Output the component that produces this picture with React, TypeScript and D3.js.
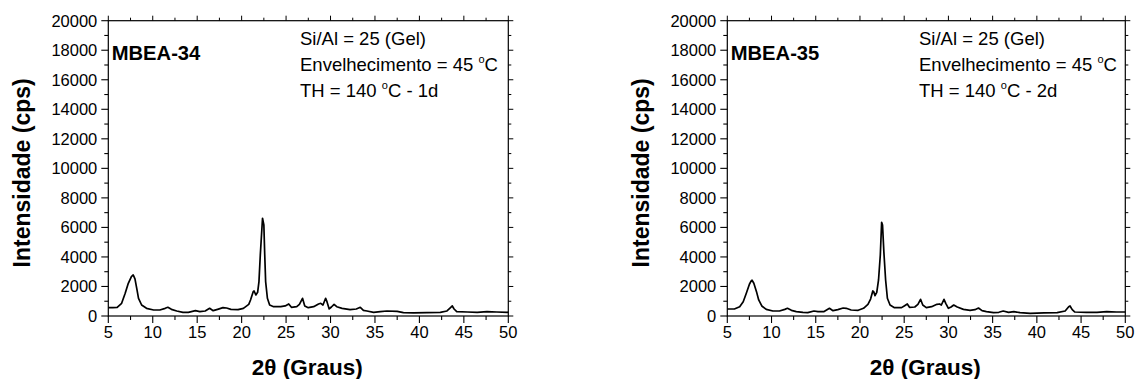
import React from "react";
import * as d3 from "d3";

// ---------- data ----------
const mbea34Theta = [
  5.0, 5.5, 6.0, 6.5, 6.9, 7.25, 7.6, 7.8, 8.0, 8.2, 8.4, 8.75, 9.3, 10.1, 10.8, 11.4, 11.7, 12.1, 12.7,
  13.4, 14.0, 14.8, 15.3, 15.9, 16.4, 16.8, 17.3, 17.9, 18.3, 18.8, 19.6, 20.2, 20.8, 21.0, 21.3, 21.4,
  21.6, 21.8, 21.95, 22.1, 22.35, 22.5, 22.6, 22.7, 22.9, 23.15, 23.6, 24.4, 24.9, 25.3, 25.6, 26.2,
  26.5, 26.85, 27.1, 27.5, 28.1, 28.65, 28.9, 29.15, 29.45, 29.6, 29.85, 30.1, 30.4, 30.7, 31.3, 32.2,
  32.9, 33.35, 33.7, 34.1, 34.85, 35.6, 36.35, 37.5, 38.2, 39.35, 40.85, 42.35, 43.1, 43.5, 43.7, 43.9,
  44.2, 45.4, 46.5, 47.6, 48.7, 49.9, 50.0,
];
const mbea34Counts = [
  565, 565, 590, 860, 1540, 2215, 2670, 2780, 2510, 1875, 1200, 745, 520, 405, 405, 520, 590, 450, 340,
  250, 250, 360, 295, 340, 520, 360, 450, 565, 540, 450, 430, 520, 790, 1085, 1650, 1695,
  1425, 1605, 2330, 4135, 6620, 6170, 4135, 2330, 1200, 745, 630, 630, 680, 815, 590, 630,
  790, 1200, 680, 565, 630, 815, 860, 745, 1200, 970, 475, 610, 790, 630, 520, 430,
  475, 590, 385, 340, 250, 295, 340, 315, 225, 205, 225, 250, 340, 565, 680, 475,
  295, 270, 250, 295, 270, 250, 260,
];

const mbea35Theta = [
  5.0, 5.8, 6.4, 6.8, 7.15, 7.5, 7.7, 7.8, 8.0, 8.3, 8.55, 8.9, 9.4, 10.15, 10.9, 11.5, 11.8, 12.25,
  12.8, 13.55, 14.1, 14.8, 15.25, 15.9, 16.55, 16.95, 17.5, 18.1, 18.45, 19.0, 19.8, 20.4, 20.9, 21.2,
  21.45, 21.55, 21.7, 21.9, 22.1, 22.3, 22.45, 22.55, 22.7, 22.9, 23.1, 23.4, 23.9, 24.7, 25.05, 25.35,
  25.6, 26.2, 26.55, 26.85, 27.1, 27.5, 28.1, 28.7, 29.0, 29.2, 29.5, 29.7, 30.0, 30.3, 30.6, 31.0,
  31.7, 32.45, 33.0, 33.4, 33.8, 34.3, 35.1, 35.7, 36.2, 36.8, 37.4, 38.1, 39.25, 40.8, 42.3, 43.2,
  43.6, 43.75, 44.0, 44.3, 45.6, 46.8, 47.9, 49.0, 50.0,
];
const mbea35Counts = [
  475, 475, 630, 970, 1540, 2150, 2375, 2420, 2215, 1650, 1085, 680, 450, 340, 340, 450, 520, 385,
  295, 250, 225, 340, 295, 295, 520, 360, 430, 540, 520, 405, 385, 520, 790, 1150,
  1695, 1650, 1380, 1605, 2440, 4135, 6350, 6170, 4360, 2440, 1200, 745, 565, 565, 700, 815,
  590, 610, 790, 1130, 745, 565, 630, 790, 815, 745, 1130, 860, 520, 610, 745, 610,
  450, 385, 430, 540, 360, 295, 225, 250, 340, 250, 295, 225, 180, 205, 225, 340,
  630, 680, 430, 270, 250, 250, 295, 270, 270,
];

const xTickValues = [5, 10, 15, 20, 25, 30, 35, 40, 45, 50];
const xMinorValues = [7.5, 12.5, 17.5, 22.5, 27.5, 32.5, 37.5, 42.5, 47.5];
const yTickValues = [0, 2000, 4000, 6000, 8000, 10000, 12000, 14000, 16000, 18000, 20000];
const yMinorValues = [1000, 3000, 5000, 7000, 9000, 11000, 13000, 15000, 17000, 19000];

const panel34Label = "MBEA-34";
const panel35Label = "MBEA-35";
const annotationGel = "Si/Al = 25 (Gel)";
const annotationAging = "Envelhecimento = 45 ";
const annotationTH = "TH = 140 ";
const annotationTH34 = "C - 1d";
const annotationTH35 = "C - 2d";
const yTitle = "Intensidade (cps)";
const xTitleUnit = " (Graus)";

const FONT = "Arial, 'Liberation Sans', Helvetica, sans-serif";

type PanelProps = {
  left: number;
  width: number;
  theta: number[];
  counts: number[];
  label: string;
  thSuffix: string;
};

function Panel({ left, width, theta, counts, label, thSuffix }: PanelProps) {
  const top = 20.7;
  const bottom = 316;
  const x = d3.scaleLinear().domain([5, 50]).range([left, left + width]);
  const y = d3.scaleLinear().domain([0, 20000]).range([bottom, top]);
  const pts: [number, number][] = theta.map((t, i) => [t, counts[i]]);
  const line = d3
    .line<[number, number]>()
    .x((d) => x(d[0]))
    .y((d) => y(d[1]));
  const right = left + width;
  const majorLen = 7;
  const minorLen = 4;
  const stroke = "#000";
  return (
    <g>
      <rect x={left} y={top} width={width} height={bottom - top} fill="none" stroke={stroke} strokeWidth={1.2} />
      {xTickValues.map((v) => (
        <g key={"xt" + v}>
          <line x1={x(v)} x2={x(v)} y1={bottom} y2={bottom + majorLen} stroke={stroke} strokeWidth={1.1} />
          <line x1={x(v)} x2={x(v)} y1={top} y2={top - majorLen + 2} stroke={stroke} strokeWidth={1} />
          <text x={x(v)} y={338} textAnchor="middle" fontFamily={FONT} fontSize={16.5} fill="#000">
            {v}
          </text>
        </g>
      ))}
      {xMinorValues.map((v) => (
        <g key={"xm" + v}>
          <line x1={x(v)} x2={x(v)} y1={bottom} y2={bottom + minorLen} stroke={stroke} strokeWidth={1.1} />
          <line x1={x(v)} x2={x(v)} y1={top} y2={top - minorLen + 1} stroke={stroke} strokeWidth={1} />
        </g>
      ))}
      {yTickValues.map((v) => (
        <g key={"yt" + v}>
          <line x1={left} x2={left - majorLen} y1={y(v)} y2={y(v)} stroke={stroke} strokeWidth={1.1} />
          <line x1={right} x2={right + majorLen - 2} y1={y(v)} y2={y(v)} stroke={stroke} strokeWidth={1} />
          <text
            x={left - 11}
            y={y(v)}
            dy="0.36em"
            textAnchor="end"
            fontFamily={FONT}
            fontSize={16.5}
            fill="#000"
          >
            {v}
          </text>
        </g>
      ))}
      {yMinorValues.map((v) => (
        <g key={"ym" + v}>
          <line x1={left} x2={left - minorLen} y1={y(v)} y2={y(v)} stroke={stroke} strokeWidth={1.1} />
          <line x1={right} x2={right + minorLen - 1} y1={y(v)} y2={y(v)} stroke={stroke} strokeWidth={1} />
        </g>
      ))}
      <path d={line(pts) || ""} fill="none" stroke="#000" strokeWidth={1.7} strokeLinejoin="round" />
      <text x={left + 3.4} y={60} fontFamily={FONT} fontWeight="bold" fontSize={20.2} fill="#000">
        {label}
      </text>
      <g fontFamily={FONT} fontSize={18.5} fill="#000">
        <text x={left + 191.7} y={45}>
          {annotationGel}
        </text>
        <text x={left + 191.7} y={71}>
          {annotationAging}
          <tspan fontSize={11} dy={-8}>o</tspan>
          <tspan dy={8}>C</tspan>
        </text>
        <text x={left + 191.7} y={97}>
          {annotationTH}
          <tspan fontSize={11} dy={-8}>o</tspan>
          <tspan dy={8}>{thSuffix}</tspan>
        </text>
      </g>
      <text
        transform={`translate(${left - 78.3},${(top + bottom) / 2 + 4.5}) rotate(-90)`}
        textAnchor="middle"
        fontFamily={FONT}
        fontWeight="bold"
        fontSize={23}
        fill="#000"
      >
        {yTitle}
      </text>
      <text
        x={left + width / 2 - 1}
        y={375}
        textAnchor="middle"
        fontFamily={FONT}
        fontWeight="bold"
        fontSize={22.5}
        fill="#000"
      >
        {"2\u03B8" + xTitleUnit}
      </text>
    </g>
  );
}

export default function App() {
  return (
    <svg
      width={1136}
      height={379}
      viewBox="0 0 1136 379"
      style={{ position: "absolute", left: 0, top: 0, background: "#fff" }}
    >
      <rect x={0} y={0} width={1136} height={379} fill="#fff" />
      <Panel left={108.3} width={400} theta={mbea34Theta} counts={mbea34Counts} label={panel34Label} thSuffix={annotationTH34} />
      <Panel left={727.3} width={398} theta={mbea35Theta} counts={mbea35Counts} label={panel35Label} thSuffix={annotationTH35} />
    </svg>
  );
}
